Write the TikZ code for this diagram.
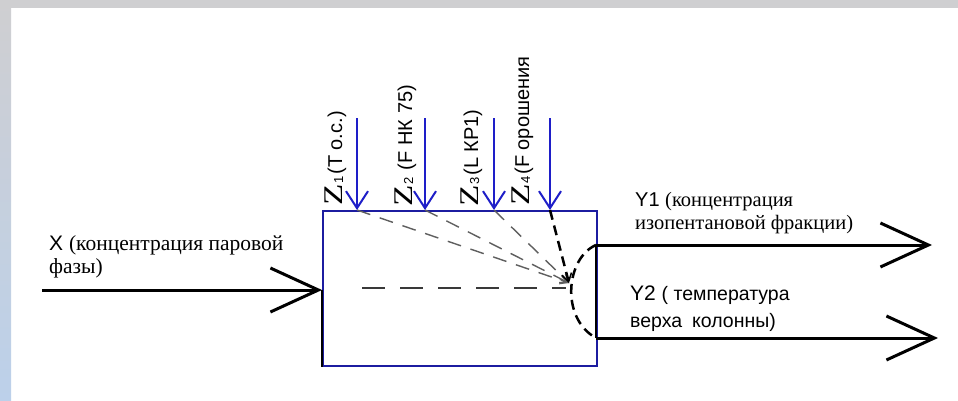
\documentclass[tikz,border=0pt]{standalone}
\usepackage{fontspec}
\setmainfont{Liberation Sans}
\newfontfamily\serifcyr{Liberation Serif}
\usetikzlibrary{arrows.meta}
\definecolor{boxblue}{RGB}{28,28,160}
\definecolor{zblue}{RGB}{30,30,200}
\definecolor{topgray}{RGB}{207,207,209}
\definecolor{stripblue}{RGB}{188,208,234}
\definecolor{dashgray}{RGB}{95,95,95}
\newcommand{\zsub}[1]{\kern1pt\raisebox{-1pt}{\fontsize{13}{13}\selectfont #1}\kern1.5pt}
\newcommand{\bigZ}{{\serifcyr\fontsize{27}{27}\selectfont\scalebox{1.3}[1]{Z}}}
\tikzset{
  boxst/.style={draw=boxblue, line width=2pt, rectangle, inner sep=0pt},
  bigarr/.style={line width=3pt, -{Straight Barb[length=48pt,width=44pt]}},
  zarr/.style={draw=zblue, line width=2pt, -{Straight Barb[length=17pt,width=22pt]}},
  graydash/.style={draw=dashgray, line width=1.4pt, dash pattern=on 14pt off 10pt, -{Straight Barb[length=8pt,width=8pt,line width=1pt]}},
  thickdash/.style={line width=2.5pt, dash pattern=on 10pt off 6pt},
  zlab/.style={rotate=90, anchor=base west, inner sep=0pt, font=\fontsize{20}{20}\selectfont},
  txt/.style={anchor=base west, inner sep=0pt, align=left},
}
\begin{document}
\begin{tikzpicture}[x=1pt,y=-1pt]
\useasboundingbox (0,0) rectangle (958,400);
\fill[white] (0,0) rectangle (958,400);
\fill[topgray] (0,0) rectangle (958,8);
\shade[top color=topgray, bottom color=stripblue] (0,0) rectangle (11,400);

% box
\node[boxst, minimum width=274pt, minimum height=155pt, anchor=north west] (box) at (322,210) {};

% coordinates
\coordinate (xs) at (42,290);
\coordinate (xe) at (xs -| box.west);
\coordinate (y1s) at (596,245);
\coordinate (y1e) at (932,245);
\coordinate (y2s) at (596,338);
\coordinate (y2e) at (938,338);
\coordinate (z1t) at (357,118);
\coordinate (z2t) at (425,118);
\coordinate (z3t) at (494,118);
\coordinate (z4t) at (550,118);
\coordinate (z1b) at (z1t |- box.north);
\coordinate (z2b) at (z2t |- box.north);
\coordinate (z3b) at (z3t |- box.north);
\coordinate (z4b) at (z4t |- box.north);
\coordinate (cv) at (569,283);
\coordinate (hs) at (362,288);
\coordinate (he) at (566,288);

% black edge parts
\draw[line width=2pt] (xe) -- (xe |- box.south);
\draw[line width=2pt] (y1s) -- (y2s);

% main arrows
\draw[bigarr] (xs) -- (xe);
\draw[bigarr] (y1s) -- (y1e);
\draw[bigarr] (y2s) -- (y2e);

% internal dashed lines
\draw[graydash] (z1b) -- (cv);
\draw[graydash] (z2b) -- (cv);
\draw[graydash] (z3b) -- (cv);
\draw[dashgray!60!black, line width=1.5pt, dash pattern=on 23pt off 15pt] (hs) -- (he);
\draw[thickdash, -{Straight Barb[length=8pt,width=10pt,line width=1.5pt]}] (z4b) -- (cv);
\draw[thickdash] (y1s) .. controls (566,258) and (560,318) .. (y2s);

% Z arrows
\draw[zarr] (z1t) -- (z1b);
\draw[zarr] (z2t) -- (z2b);
\draw[zarr] (z3t) -- (z3b);
\draw[zarr] (z4t) -- (z4b);

% Z labels
\node[zlab] (zl1) at (342,206) {\bigZ\zsub{1}(T o.c.)};
\node[zlab] (zl2) at (412,207) {\bigZ\zsub{2}\ (F НК 75)};
\node[zlab] (zl3) at (478,207) {\bigZ\zsub{3}(L КР1)};
\node[zlab] (zl4) at (529,206) {\bigZ\zsub{4}(F орошения};

% text labels
\node[txt] (xl1) at (49,250) {\fontsize{21}{21}\selectfont X {\serifcyr\fontsize{21.5}{21.5}\selectfont(концентрация паровой}};
\node[txt] (xl2) at (49,273) {\serifcyr\fontsize{21.5}{21.5}\selectfont фазы)};
\node[txt] (yl1) at (635,206) {\fontsize{20}{20}\selectfont Y1 {\serifcyr\fontsize{20.5}{20.5}\selectfont(концентрация}};
\node[txt] (yl1b) at (635,229) {\serifcyr\fontsize{20.5}{20.5}\selectfont изопентановой фракции)};
\node[txt] (yl2) at (630,300) {\fontsize{21}{21}\selectfont Y2 {\fontsize{19.5}{19.5}\selectfont( температура}};
\node[txt] (yl2b) at (630,327) {\fontsize{19.5}{19.5}\selectfont верха\hspace{10pt}колонны)};
\end{tikzpicture}
\end{document}
